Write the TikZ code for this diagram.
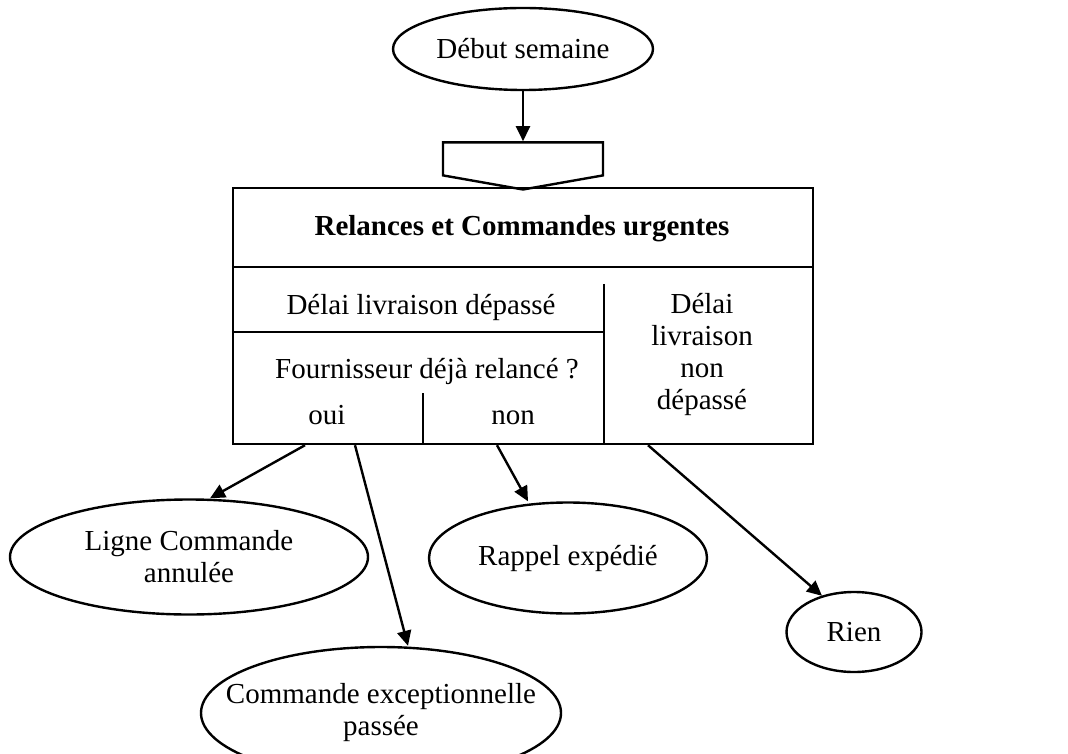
\documentclass[tikz,border=0pt]{standalone}
\usepackage{fontspec}
\setmainfont{Liberation Serif}
\usetikzlibrary{shapes, arrows.meta, positioning, shapes.geometric, shapes.symbols}

\begin{document}
\begin{tikzpicture}[x=0.5pt, y=-0.5pt, line width=1.2pt,
    every node/.style={font=\fontsize{14.5}{16}\selectfont},
    bubble/.style={draw, ellipse, inner sep=0pt, align=center},
    txt/.style={draw=none, fill=none, inner sep=0pt, align=center},
    flow/.style={-{Triangle[length=7.5pt, width=7pt]}}]
        \useasboundingbox (0,0) rectangle (1068,753);

        % Define nodes
        \node[bubble, minimum width=130pt, minimum height=41pt] (start) at (523,49) {Début semaine};
        \node[draw, signal, signal to=south, signal pointer angle=160, minimum width=80pt, minimum height=16.5pt, inner sep=0pt, below=25pt of start] (entry) {};
        \node[draw, rectangle, minimum width=290pt, minimum height=128pt, inner sep=0pt] (box) at (523,316) {};

        % Divide the box
        \draw ([yshift=-40pt]box.north west) -- ([yshift=-40pt]box.north east);
        \draw ([xshift=-105pt, yshift=-48.5pt]box.north east) -- ([xshift=-105pt]box.south east);
        \draw ([yshift=-72.5pt]box.north west) -- ([xshift=-105pt, yshift=-72.5pt]box.north east);
        \draw ([xshift=-50pt, yshift=26pt]box.south) -- ([xshift=-50pt]box.south);

        % Labels inside the box
        \node[txt, font=\fontsize{14.5}{16}\selectfont\bfseries] (title) at (522,229) {Relances et Commandes urgentes};
        \node[txt] (late) at (421,308) {Délai livraison dépassé};
        \node[txt] (ask) at (427,372) {Fournisseur déjà relancé ?};
        \node[txt, anchor=base] (yes) at (327,424) {oui};
        \node[txt, anchor=base] (no) at (513,424) {non};
        \node[txt] (ontime) at (702,355) {Délai\\livraison\\non\\dépassé};

        % Outcomes
        \node[bubble, minimum width=179pt, minimum height=57.5pt] (cancel) at (189,557) {Ligne Commande\\annulée};
        \node[bubble, inner xsep=-15pt, minimum width=180pt, minimum height=66pt] (special) at (381,713) {Commande exceptionnelle\\passée};
        \node[bubble, minimum width=139pt, minimum height=55.5pt] (remind) at (568,558) {Rappel expédié};
        \node[bubble, minimum width=67.5pt, minimum height=40pt] (nothing) at (854,632) {Rien};

        % Draw arrows
        \draw[flow] (start) -- (entry);
        \draw[flow] ([xshift=-109pt]box.south) -- ([xshift=10.5pt]cancel.north);
        \draw[flow] ([xshift=-84pt]box.south) -- ([xshift=13.5pt]special.north);
        \draw[flow] ([xshift=-13pt]box.south) -- ([xshift=-20pt]remind.north);
        \draw[flow] ([xshift=62.5pt]box.south) -- ([xshift=-16pt, yshift=-2.5pt]nothing.north);

    \end{tikzpicture}
\end{document}
